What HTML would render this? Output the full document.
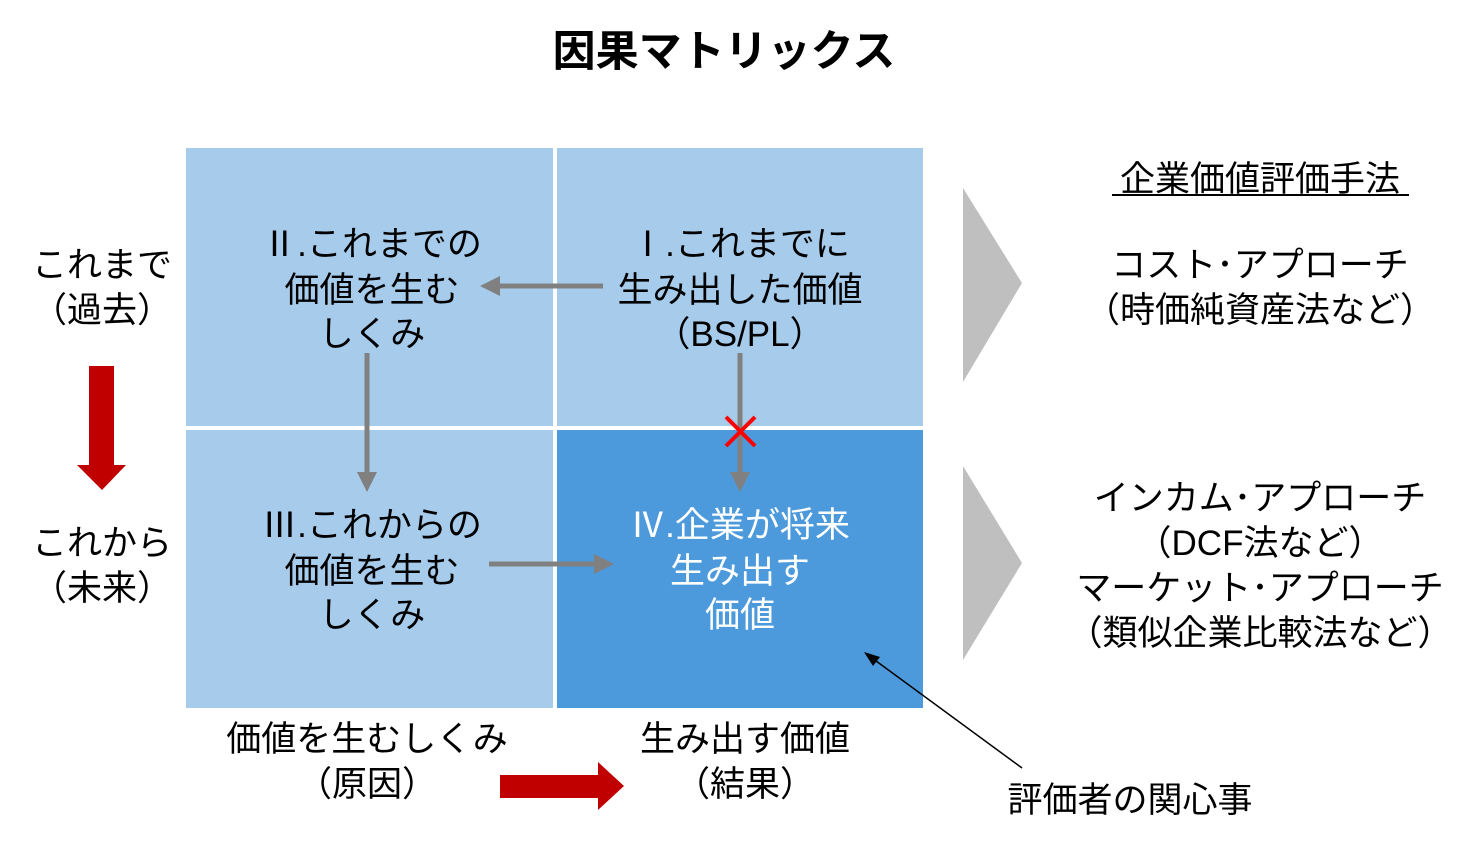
<!DOCTYPE html>
<html><head><meta charset="utf-8"><style>
html,body{margin:0;padding:0;background:#fff;}
svg{display:block;}
text{font-family:"Liberation Sans","Noto Sans CJK JP",sans-serif;}
</style></head><body>
<svg width="1480" height="843" viewBox="0 0 1480 843" xmlns="http://www.w3.org/2000/svg">
<text x="724" y="66" font-size="43" font-weight="bold" text-anchor="middle" fill="#000">因果マトリックス</text>
<rect x="186" y="148" width="367" height="278" fill="#A6CBEB"/>
<rect x="557" y="148" width="366" height="278" fill="#A6CBEB"/>
<rect x="186" y="430" width="367" height="278" fill="#A6CBEB"/>
<rect x="557" y="430" width="366" height="278" fill="#4C9ADB"/>
<g font-size="35" text-anchor="middle" fill="#000">
<text x="372" y="256">Ⅱ.これまでの</text>
<text x="372" y="302">価値を生む</text>
<text x="372" y="346">しくみ</text>
<text x="740" y="256">Ⅰ.これまでに</text>
<text x="740" y="302">生み出した価値</text>
<text x="740" y="346">（BS/PL）</text>
<text x="372" y="537">Ⅲ.これからの</text>
<text x="372" y="583">価値を生む</text>
<text x="372" y="627">しくみ</text>
<text x="740" y="537" fill="#fff">Ⅳ.企業が将来</text>
<text x="740" y="583" fill="#fff">生み出す</text>
<text x="740" y="627" fill="#fff">価値</text>
<text x="102" y="277">これまで</text>
<text x="102" y="322">（過去）</text>
<text x="102" y="555">これから</text>
<text x="102" y="600">（未来）</text>
<text x="367" y="751">価値を生むしくみ</text>
<text x="367" y="796">（原因）</text>
<text x="745" y="751">生み出す価値</text>
<text x="745" y="796">（結果）</text>
<text x="1130" y="812">評価者の関心事</text>
<text x="1260" y="277">コスト･アプローチ</text>
<text x="1260" y="322">（時価純資産法など）</text>
<text x="1260" y="510">インカム･アプローチ</text>
<text x="1260" y="555">（DCF法など）</text>
<text x="1260" y="600">マーケット･アプローチ</text>
<text x="1260" y="645">（類似企業比較法など）</text>
<text x="1260" y="191">企業価値評価手法</text>
</g>
<line x1="1112" y1="195" x2="1409" y2="195" stroke="#000" stroke-width="2"/>
<g fill="#808080" stroke="#808080">
<line x1="603" y1="286" x2="498" y2="286" stroke-width="5"/>
<polygon points="480,286 500,276 500,296" stroke="none"/>
<line x1="367" y1="353" x2="367" y2="472" stroke-width="5"/>
<polygon points="367,492 357,472 377,472" stroke="none"/>
<line x1="740" y1="353" x2="740" y2="472" stroke-width="5"/>
<polygon points="740,492 730,472 750,472" stroke="none"/>
<line x1="489" y1="564" x2="595" y2="564" stroke-width="5"/>
<polygon points="614,564 594,554 594,574" stroke="none"/>
</g>
<g stroke="#FF0000" stroke-width="4">
<line x1="726" y1="417" x2="755" y2="446"/><line x1="755" y1="417" x2="726" y2="446"/>
</g>
<line x1="1022" y1="768" x2="872" y2="658" stroke="#000" stroke-width="1.5"/>
<polygon points="864,652 880,657 873,666" fill="#000"/>
<polygon points="963,188 1022,283 963,382" fill="#BFBFBF"/>
<polygon points="963,466 1022,563 963,660" fill="#BFBFBF"/>
<g fill="#C00000">
<rect x="89" y="366" width="25" height="100"/>
<polygon points="77,465 126,465 102,490"/>
<rect x="500" y="775" width="99" height="23"/>
<polygon points="598,762 598,810 624,786"/>
</g>
</svg>
</body></html>
